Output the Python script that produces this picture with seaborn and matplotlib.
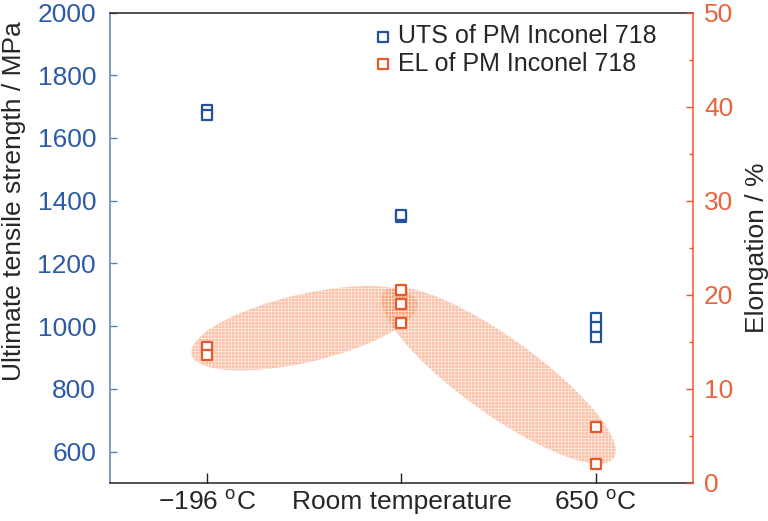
import numpy as np
import pandas as pd
import matplotlib
matplotlib.use("Agg")
import matplotlib.pyplot as plt
import matplotlib.transforms as mtransforms
from matplotlib.patches import Ellipse
from matplotlib.ticker import MultipleLocator
import seaborn as sns

# test conditions (x categories)
conditions = ["\u2212196 $^{\\rm o}$C", "Room temperature", "650 $^{\\rm o}$C"]

# ultimate tensile strength, MPa (index into conditions)
uts_cond = [0, 0, 1, 1, 2, 2, 2]
uts_mpa = [1688, 1672, 1348, 1353, 1027, 997, 965]

# elongation, %
el_cond = [0, 0, 1, 1, 1, 2, 2]
el_pct = [14.5, 13.6, 20.5, 19.0, 17.0, 6.0, 2.0]

# highlighted groups of elongation points (condition indices)
el_groups = [(0, 1), (1, 2)]

BLUE = "#2251a0"
BLUE_TXT = "#2d5ba8"
BLUE_SPINE = "#5f80b8"
ORANGE = "#e8582e"
ORANGE_TXT = "#e8643c"
FILL = (0.95, 0.45, 0.22, 0.42)

sns.set_style("ticks")
plt.rcParams["font.family"] = ["Liberation Sans", "DejaVu Sans"]
plt.rcParams["mathtext.fontset"] = "custom"
plt.rcParams["mathtext.rm"] = "Liberation Sans"
plt.rcParams["font.size"] = 19
plt.rcParams["hatch.color"] = (1, 1, 1, 0.2)
plt.rcParams["hatch.linewidth"] = 0.3

uts_df = pd.DataFrame({"condition": [conditions[i] for i in uts_cond], "uts": uts_mpa})
el_df = pd.DataFrame({"condition": [conditions[i] for i in el_cond], "el": el_pct})

fig, ax = plt.subplots(figsize=(7.68, 5.21), dpi=100)
fig.subplots_adjust(left=0.1432, right=0.9023, bottom=0.073, top=0.976)
ax2 = ax.twinx()

sns.scatterplot(data=uts_df, x="condition", y="uts", ax=ax, marker="s", s=50,
                facecolor="white", edgecolor=BLUE, linewidth=1.6,
                label="UTS of PM Inconel 718", legend=False, zorder=3)
sns.scatterplot(data=el_df, x="condition", y="el", ax=ax2, marker="s", s=50,
                facecolor="white", edgecolor=ORANGE, linewidth=1.6,
                label="EL of PM Inconel 718", legend=False, zorder=3)

ax.set_xlim(-0.5, 2.5)
ax.set_ylim(500, 2000)
ax2.set_ylim(0, 50)
ax.yaxis.set_major_locator(MultipleLocator(200))
ax2.yaxis.set_major_locator(MultipleLocator(10))
ax2.yaxis.set_minor_locator(MultipleLocator(5))

ax.set_xlabel("")
ax.set_ylabel("Ultimate tensile strength / MPa", labelpad=8)
ax.yaxis.label.set_y(0.6)
ax2.set_ylabel("Elongation / %", labelpad=8)

# spines
for side in ["top", "bottom"]:
    ax.spines[side].set_color("#222222")
    ax.spines[side].set_linewidth(1.1)
ax.spines["left"].set_color(BLUE_SPINE)
ax.spines["left"].set_linewidth(1.1)
ax.spines["right"].set_visible(False)
for side in ["top", "bottom", "left"]:
    ax2.spines[side].set_visible(False)
ax2.spines["right"].set_color(ORANGE)
ax2.spines["right"].set_linewidth(1.1)

ax.tick_params(axis="x", direction="in", length=7, width=1, color="#222222", pad=5)
ax.tick_params(axis="y", direction="in", length=5, width=1, color=BLUE_SPINE,
               labelcolor=BLUE_TXT, pad=10)
ax2.tick_params(axis="y", which="major", direction="in", length=5, width=1,
                color=ORANGE, labelcolor=ORANGE_TXT, pad=8)
ax2.tick_params(axis="y", which="minor", direction="in", length=3, width=1, color=ORANGE)

# shaded ellipses around groups of elongation points, built in pixel space
fig.canvas.draw()
to_px = ax2.transData
extra_len = [32, 44]
thick = [68, 76]
for (g0, g1), dl, th in zip(el_groups, extra_len, thick):
    pts = []
    for g in (g0, g1):
        vals = [v for c, v in zip(el_cond, el_pct) if c == g]
        pts.append(to_px.transform((g, np.mean(vals))))
    p0, p1 = np.array(pts[0]), np.array(pts[1])
    d = p1 - p0
    center = (p0 + p1) / 2
    angle = np.degrees(np.arctan2(d[1], d[0]))
    ell = Ellipse(center, np.hypot(*d) + dl, th, angle=angle, facecolor=FILL,
                  linewidth=0, hatch="+++++", transform=mtransforms.IdentityTransform(),
                  zorder=1)
    ax2.add_patch(ell)

h1, l1 = ax.get_legend_handles_labels()
h2, l2 = ax2.get_legend_handles_labels()
ax2.legend(h1 + h2, l1 + l2, loc="upper left", bbox_to_anchor=(0.455, 0.975),
           frameon=False, borderpad=0, borderaxespad=0, handlelength=0.6,
           handletextpad=0.3, labelspacing=0.15, fontsize=18)

fig.savefig("out.png", dpi=100)
